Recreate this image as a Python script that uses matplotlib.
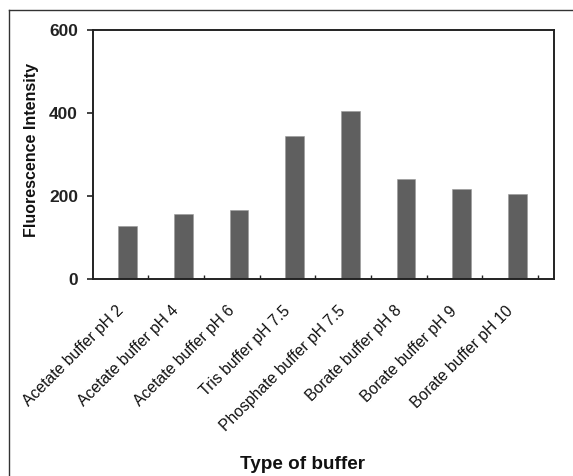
import matplotlib
matplotlib.use("Agg")
import matplotlib.pyplot as plt
from matplotlib.lines import Line2D
from matplotlib.transforms import ScaledTranslation

categories = ["Acetate buffer pH 2", "Acetate buffer pH 4", "Acetate buffer pH 6",
              "Tris buffer pH 7.5", "Phosphate buffer pH 7.5", "Borate buffer pH 8",
              "Borate buffer pH 9", "Borate buffer pH 10"]
values = [128, 157, 166, 345, 404, 242, 216, 206]
yticks = [0, 200, 400, 600]

plt.rcParams['font.family'] = ['Liberation Sans', 'DejaVu Sans']

W, H = 573, 476
fig = plt.figure(figsize=(W / 100, H / 100), dpi=100)
ax = fig.add_axes([92.7 / W, 1 - 279 / H, (554 - 92.7) / W, (279 - 30) / H])

pos = [i + 0.63 for i in range(len(categories))]
ax.bar(pos, values, width=0.336, color="#5f5f5f", edgecolor="#9a9a9a", linewidth=0.4, zorder=2)

ax.set_xlim(0, 8.29)
ax.set_ylim(0, 600)
ax.set_yticks(yticks)
ax.set_yticklabels([str(v) for v in yticks], fontweight='bold', fontsize=12.5, color="#111111")
ax.tick_params(axis='y', direction='out', length=4.5, width=1.2, pad=6, colors="#222222")

ax.set_xticks(pos)
ax.set_xticklabels(categories, rotation=45, ha='right', va='center', rotation_mode='anchor',
                   fontsize=11.3, color="#111111")
ax.tick_params(axis='x', which='major', length=0, pad=22)
ax.set_xticks([i + 1 for i in range(len(categories))], minor=True)
ax.tick_params(axis='x', which='minor', direction='in', length=3, width=1.0, colors="#222222")
off = ScaledTranslation(-7 / 100, 1 / 100, fig.dpi_scale_trans)
for lbl in ax.get_xticklabels():
    lbl.set_transform(lbl.get_transform() + off)

for s in ax.spines.values():
    s.set_color("#222222")
    s.set_linewidth(1.4)

fig.text(303 / W, 1 - 469 / H, "Type of buffer", ha='center', va='baseline',
         fontsize=13.6, fontweight='bold', color="#111111")
fig.text(32 / W, 1 - 150 / H, "Fluorescence Intensity", ha='center', va='center',
         rotation=90, fontsize=11.5, fontweight='bold', color="#111111")

fig.add_artist(Line2D([9 / W, 9 / W], [0, 1 - 10 / H], color="#333333", linewidth=1.0))
fig.add_artist(Line2D([9 / W, 1], [1 - 10 / H, 1 - 10 / H], color="#333333", linewidth=1.0))

fig.savefig("out.png", dpi=100)
